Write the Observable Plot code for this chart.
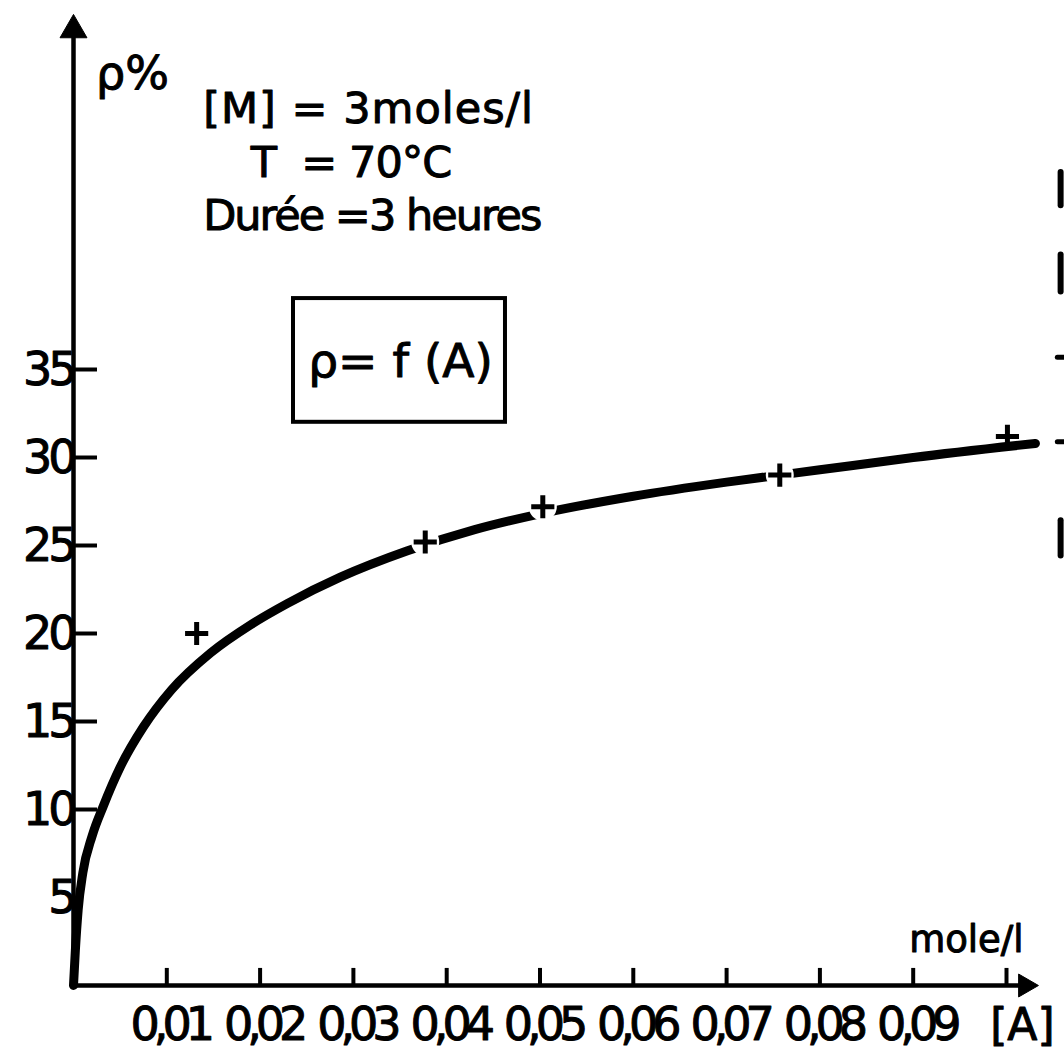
<!DOCTYPE html>
<html>
<head>
<meta charset="utf-8">
<script src="https://cdn.jsdelivr.net/npm/d3@7"></script>
<script src="https://cdn.jsdelivr.net/npm/@observablehq/plot@0.6"></script>
<style>
  html, body { margin: 0; padding: 0; background: #fff; overflow: hidden; }
  #chart svg { display: block; }
</style>
</head>
<body>
<div id="chart"></div>
<script>
// Measured points (ρ % vs [A] mole/l)
const pointA = [0.0132, 0.0377, 0.0503, 0.0757, 0.1001];
const pointRho = [20.0, 25.2, 27.2, 29.0, 31.2];

// Hand-drawn fitted curve
const curveA = [0, 0.0002, 0.0005, 0.0010, 0.0020, 0.0032, 0.0050, 0.0075, 0.0105, 0.0147, 0.0190, 0.0229, 0.0286, 0.0358, 0.0430, 0.0500, 0.0600, 0.0700, 0.0800, 0.0900, 0.1031];
const curveRho = [0, 2.0, 4.3, 6.4, 8.5, 10.2, 12.4, 14.7, 16.8, 18.9, 20.5, 21.7, 23.2, 24.7, 25.9, 26.8, 27.8, 28.6, 29.3, 30.0, 30.8];

// Axis ticks and labels
const xTicks = [0.01, 0.02, 0.03, 0.04, 0.05, 0.06, 0.07, 0.08, 0.09, 0.10];
const xTickLabels = ["0,01", "0,02", "0,03", "0,04", "0,05", "0,06", "0,07", "0,08", "0,09", ""];
const yTicks = [10, 15, 20, 25, 30, 35];
const yLabelValues = [5, 10, 15, 20, 25, 30, 35];
const yLabels = ["5", "10", "15", "20", "25", "30", "35"];

// Conditions text
const conditions = ["[M] = 3moles/l", "T  = 70°C", "Durée =3 heures"];

// Cropped strokes of the neighbouring figure at the right edge (ρ extents)
const edgeBarTop = [46.2, 41.5, 26.4];
const edgeBarBottom = [44.3, 39.4, 24.4];
const edgeDashRho = [35.7, 30.9];

const points = pointA.map((a, i) => ({a, rho: pointRho[i]}));
const curve = curveA.map((a, i) => ({a, rho: curveRho[i]}));
const xt = xTicks.map((v, i) => ({v, label: xTickLabels[i]}));
const yl = yLabelValues.map((v, i) => ({v, label: yLabels[i]}));
const edgeBars = edgeBarTop.map((t, i) => ({t, b: edgeBarBottom[i]}));

const FONT = "'DejaVu Sans', sans-serif";
const ink = {fill: "#000", stroke: "#000", strokeWidth: 1};

const yTop = 55.2;   // top of the vertical arrow
const xEnd = 0.1034; // tip of the horizontal arrow
const xEdge = 0.1058;

const chart = Plot.plot({
  width: 1064,
  height: 1053,
  marginLeft: 73,
  marginRight: 58,
  marginTop: 369,
  marginBottom: 68,
  x: {domain: [0, 0.1], axis: null},
  y: {domain: [0, 35], axis: null},
  style: {fontFamily: FONT, color: "#000", background: "#fff", overflow: "hidden"},
  marks: [
    // axes lines
    Plot.ruleX([0], {y1: 0, y2: yTop - 1.2, stroke: "#000", strokeWidth: 4.5}),
    Plot.ruleY([0], {x1: 0, x2: xEnd - 0.002, stroke: "#000", strokeWidth: 4.5}),
    // arrowheads
    Plot.dot([{a: 0, rho: yTop}], {x: "a", y: "rho", dy: 16, symbol: "triangle", r: 10, fill: "#000", stroke: "#000", strokeWidth: 1}),
    Plot.dot([{a: xEnd, rho: 0}], {x: "a", y: "rho", dx: -13, symbol: "triangle", rotate: 90, r: 8.5, fill: "#000", stroke: "#000", strokeWidth: 1}),
    // ticks (drawn inward)
    Plot.ruleX(xt, {x: "v", y1: 0, y2: 0.97, stroke: "#000", strokeWidth: 4}),
    Plot.ruleY(yTicks, {x1: 0, x2: 0.00257, stroke: "#000", strokeWidth: 4}),
    // tick labels
    Plot.text(xt, {x: "v", y: 0, text: "label", dy: 40, dx: 3, fontSize: 46, lineAnchor: "middle", ...ink}),
    Plot.text(yl, {x: 0, y: "v", text: "label", dx: 0, dy: 1, textAnchor: "end", fontSize: 46, lineAnchor: "middle", ...ink}),
    // axis names
    Plot.text(["ρ%"], {x: 0.00632, y: 51.8, fontSize: 46, lineAnchor: "middle", ...ink}),
    Plot.text(["mole/l"], {x: 0.0957, y: 2.6, fontSize: 37, lineAnchor: "middle", ...ink}),
    Plot.text(["[A]"], {x: 0.1017, y: 0, dy: 40, fontSize: 44, lineAnchor: "middle", ...ink}),
    // condition text
    Plot.text([conditions[0]], {x: 0.0139, y: 49.8, textAnchor: "start", fontSize: 43, lineAnchor: "middle", ...ink}),
    Plot.text([conditions[1]], {x: 0.0190, y: 46.7, textAnchor: "start", fontSize: 43, lineAnchor: "middle", ...ink}),
    Plot.text([conditions[2]], {x: 0.0139, y: 43.7, textAnchor: "start", fontSize: 43, lineAnchor: "middle", ...ink}),
    // boxed formula
    Plot.rect([0], {x1: 0.02358, x2: 0.0463, y1: 32.0, y2: 39.03, fill: "none", stroke: "#000", strokeWidth: 4}),
    Plot.text(["ρ= f (A)"], {x: 0.03505, y: 35.45, fontSize: 47, lineAnchor: "middle", ...ink}),
    // curve
    Plot.line(curve, {x: "a", y: "rho", curve: "monotone-x", stroke: "#000", strokeWidth: 9, strokeLinecap: "round"}),
    // gaps in the curve around the measured points
    Plot.dot(points.slice(1, 4), {x: "a", y: "rho", r: 14, fill: "#fff", stroke: "none"}),
    // measured points
    Plot.dot(points, {x: "a", y: "rho", symbol: "plus", r: 7.5, stroke: "#000", strokeWidth: 5}),
    // cropped strokes at the right edge
    Plot.ruleX(edgeBars, {x: xEdge, y1: "t", y2: "b", stroke: "#000", strokeWidth: 6, strokeLinecap: "round"}),
    Plot.ruleY(edgeDashRho, {x1: xEdge - 0.0003, x2: 0.108, stroke: "#000", strokeWidth: 5, strokeLinecap: "round"})
  ]
});

// spacing of the stencil-like lettering
const xSet = new Set(xTickLabels.filter(d => d));
const ySet = new Set(yLabels);
chart.querySelectorAll("text").forEach(t => {
  const s = t.textContent;
  if (xSet.has(s)) t.style.letterSpacing = "-6px";
  else if (ySet.has(s)) t.style.letterSpacing = "-4px";
  else if (s === conditions[0]) t.style.letterSpacing = "1px";
  else if (s === conditions[1]) t.style.letterSpacing = "-1px";
  else if (s === conditions[2]) t.style.letterSpacing = "-2px";
});

document.getElementById("chart").appendChild(chart);
</script>
</body>
</html>
